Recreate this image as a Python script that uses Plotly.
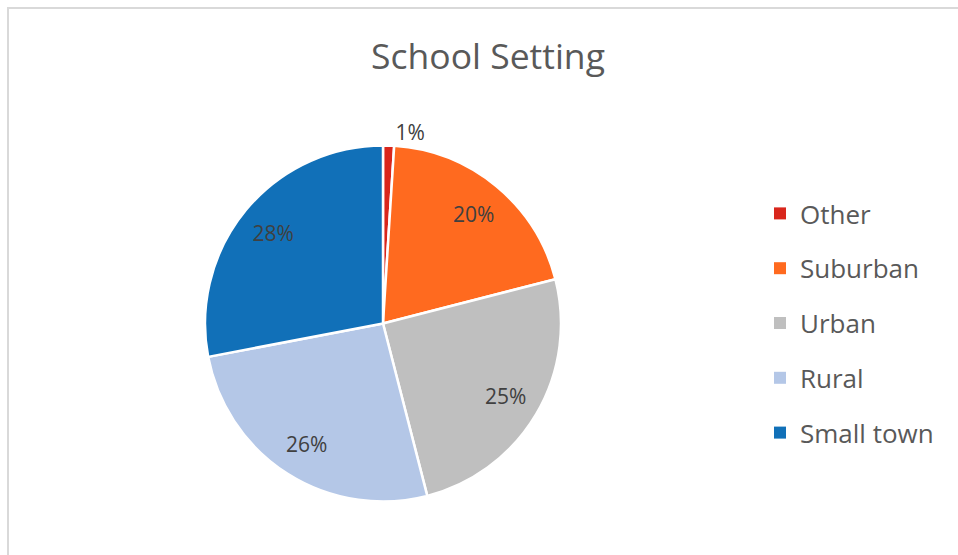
import plotly.graph_objects as go

# School setting shares (percent)
categories = ["Other", "Suburban", "Urban", "Rural", "Small town"]
shares = [1, 20, 25, 26, 28]
colors = ["#D9261C", "#FF6A1F", "#BFBFBF", "#B4C7E7", "#1170B8"]
label_positions = ["outside", "inside", "inside", "inside", "inside"]

W, H = 958, 555
TEXT = "#404040"
FONT = "Open Sans"
PIE_DOMAIN = dict(x=[205 / W, 561 / W], y=[1 - 502 / H, 1 - 145 / H])

fig = go.Figure()

# Filled slices
fig.add_trace(go.Pie(
    labels=categories,
    values=shares,
    sort=False,
    direction="clockwise",
    rotation=0,
    marker=dict(colors=colors, line=dict(color="white", width=2.5)),
    textinfo="none",
    showlegend=False,
    domain=PIE_DOMAIN,
    hoverinfo="label+percent",
))

# Percentage labels: a transparent ring over the same slices keeps the
# labels toward the outer part of each wedge
fig.add_trace(go.Pie(
    labels=categories,
    values=shares,
    sort=False,
    direction="clockwise",
    rotation=0,
    hole=0.6,
    marker=dict(colors=["rgba(0,0,0,0)"] * len(categories),
                line=dict(width=0)),
    textinfo="percent",
    texttemplate="%{percent:.0%}",
    textposition=label_positions,
    insidetextorientation="horizontal",
    textfont=dict(family=FONT, size=21, color=TEXT),
    insidetextfont=dict(family=FONT, size=21, color=TEXT),
    outsidetextfont=dict(family=FONT, size=21, color=TEXT),
    showlegend=False,
    domain=PIE_DOMAIN,
    hoverinfo="skip",
))

# Legend entries, one group per category so the rows can be spaced apart
for name, col in zip(categories, colors):
    fig.add_trace(go.Scatter(
        x=[None], y=[None],
        mode="markers",
        name=name,
        legendgroup=name,
        marker=dict(symbol="square", size=12, color=col),
        hoverinfo="skip",
    ))

fig.update_layout(
    width=W, height=H,
    margin=dict(l=0, r=0, t=0, b=0),
    paper_bgcolor="white",
    plot_bgcolor="white",
    xaxis=dict(visible=False),
    yaxis=dict(visible=False),
    title=dict(
        text="School Setting",
        font=dict(family=FONT, size=35.5, color="#595959"),
        x=488 / W, xanchor="center",
        y=1 - 57 / H, yanchor="middle",
        xref="paper", yref="container",
    ),
    legend=dict(
        x=760 / W, xanchor="left",
        y=1 - 190 / H, yanchor="top",
        font=dict(family=FONT, size=26, color="#595959"),
        tracegroupgap=18,
        bgcolor="rgba(0,0,0,0)",
        itemclick=False, itemdoubleclick=False,
    ),
    shapes=[dict(
        type="rect", xref="paper", yref="paper",
        x0=8 / W, x1=1.05, y0=-0.05, y1=1 - 8 / H,
        line=dict(color="#D9D9D9", width=2),
        fillcolor="rgba(0,0,0,0)",
        layer="below",
    )],
)

fig.write_html("out.html")
